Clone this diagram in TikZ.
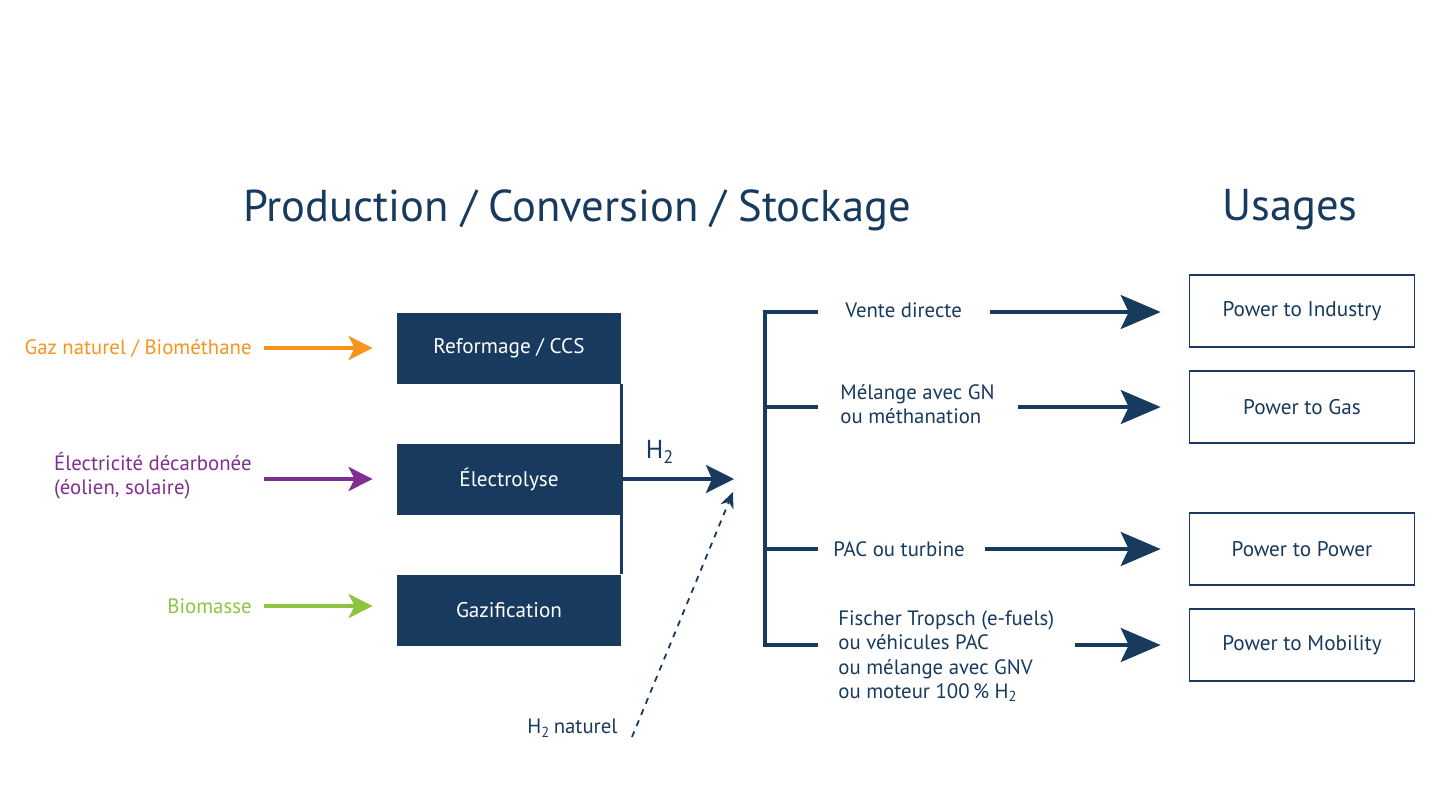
\documentclass[tikz,border=0pt]{standalone}
\usepackage{fontspec}
\setmainfont{PT Sans}
\usepackage{tikz}
\usetikzlibrary{arrows.meta,positioning}
\definecolor{NavyDark}{HTML}{173A5E}
\definecolor{InOrange}{HTML}{F7941D}
\definecolor{InPurple}{HTML}{7F2F91}
\definecolor{InGreen}{HTML}{8CC63F}
\tikzset{
  procbox/.style={fill=NavyDark, draw=none, minimum width=112pt, minimum height=35.5pt,
    text=white, font=\fontsize{10.6}{12}\selectfont},
  usebox/.style={draw=NavyDark, line width=0.8pt, fill=white, minimum width=112.5pt,
    minimum height=36pt, text=NavyDark, font=\fontsize{10.6}{12}\selectfont},
  lbl/.style={text=NavyDark, font=\fontsize{10.4}{12}\selectfont, inner sep=0pt},
  inarrow/.style={line width=1.6pt, shorten >=12pt, -{Stealth[length=12pt, width=12pt, inset=3pt]}},
  bigarrow/.style={draw=NavyDark, line width=1.6pt, shorten >=14pt, -{Stealth[length=20pt, width=17pt, inset=4pt]}},
}
\begin{document}
\begin{tikzpicture}[x=0.5pt, y=-0.5pt]
  \useasboundingbox (0,0) rectangle (1448,800);
  % Titles
  \node[lbl, font=\fontsize{22.3}{26}\selectfont] (title1) at (577,210) {Production / Conversion / Stockage};
  \node[lbl, font=\fontsize{22.3}{26}\selectfont] (title2) at (1290,210) {Usages};

  % Production boxes
  \node[procbox] (refo) at (509,348) {Reformage / CCS};
  \node[procbox] (elec) at (509,479) {Électrolyse};
  \node[procbox] (gazi) at (509,610) {Gazification};
  \draw[NavyDark, line width=1.2pt] (refo.south east) -- (gazi.north east);

  % Inputs
  \node[lbl, text=InOrange, anchor=east] (gaz) at (252,348) {Gaz naturel / Biométhane};
  \node[lbl, text=InPurple, anchor=east, align=left] (elin) at (252,476) {Électricité décarbonée\\(éolien, solaire)};
  \node[lbl, text=InGreen, anchor=east] (bio) at (252,606) {Biomasse};
  \draw[inarrow, InOrange] (264,348) coordinate (g0) -- (refo.west |- g0);
  \draw[inarrow, InPurple] (264,479) coordinate (e0) -- (elec.west |- e0);
  \draw[inarrow, InGreen] (264,606) coordinate (b0) -- (gazi.west |- b0);

  % H2 output
  \coordinate (hub) at (734,479);
  \draw[bigarrow, shorten >=0pt, -{Stealth[length=14pt, width=14pt, inset=3pt]}] (elec.east) -- (hub);
  \node[lbl, font=\fontsize{13}{14}\selectfont] (h2) at (660,452) {H\textsubscript{2}};
  \node[lbl, anchor=west] (h2nat) at (527,728) {H\textsubscript{2}\,naturel};
  \draw[NavyDark, line width=0.9pt, dashed, -{Stealth[length=8pt, width=7pt]}] (632,737) -- (733,492);

  % Bracket
  \coordinate (bt) at (765,312);
  \coordinate (bb) at (765,645);
  \draw[NavyDark, line width=1.6pt] (818,312) -- (bt) -- (bb) -- (818,645);
  \draw[NavyDark, line width=1.6pt] (765,407) -- (818,407);
  \draw[NavyDark, line width=1.6pt] (765,549) -- (818,549);

  % Usages
  \node[usebox] (pind) at (1302,311) {Power to Industry};
  \node[usebox] (pgas) at (1302,407) {Power to Gas};
  \node[usebox] (ppow) at (1302,549) {Power to Power};
  \node[usebox] (pmob) at (1302,645) {Power to Mobility};

  \node[lbl, anchor=west] (vente) at (845,310) {Vente directe};
  \node[lbl, anchor=west, align=left] (melange) at (840,404) {Mélange avec GN\\ou méthanation};
  \node[lbl, anchor=west] (pac) at (833,549) {PAC ou turbine};
  \node[lbl, anchor=north west, align=left, font=\fontsize{10.4}{12.2}\selectfont] (fischer) at (838,610)
    {Fischer Tropsch (e-fuels)\\ou véhicules PAC\\ou mélange avec GNV\\ou moteur 100\,\% H\textsubscript{2}};

  \draw[bigarrow] (990,312) -- (pind.west |- 0,312);
  \draw[bigarrow] (1018,407) -- (pgas.west);
  \draw[bigarrow] (985,549) -- (ppow.west);
  \draw[bigarrow] (1075,645) -- (pmob.west);
\end{tikzpicture}
\end{document}
